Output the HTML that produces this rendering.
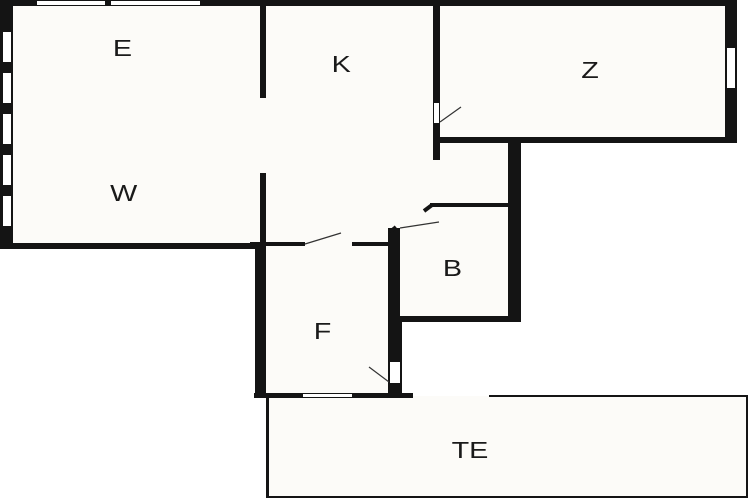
<!DOCTYPE html>
<html><head><style>
html,body{margin:0;padding:0;background:#fff;}
svg{display:block;}
text{font-family:"Liberation Sans",sans-serif;font-size:23px;fill:#1a1a1a;text-anchor:middle;}
</style></head><body>
<svg width="750" height="500" viewBox="0 0 750 500" xmlns="http://www.w3.org/2000/svg">
<rect width="750" height="500" fill="#fff"/>
<!-- room fills -->
<g fill="#fcfbf8">
<rect x="0" y="0" width="737" height="143"/>
<rect x="0" y="0" width="266" height="249"/>
<rect x="260" y="0" width="260" height="246"/>
<rect x="255" y="243" width="147" height="155"/>
<rect x="388" y="203" width="132" height="119"/>
<rect x="266" y="396" width="482" height="102"/>
</g>
<g fill="#141414">
<!-- top wall -->
<rect x="0" y="0" width="737" height="6"/>
<!-- left wall -->
<rect x="0" y="0" width="13" height="249"/>
<!-- E/W bottom -->
<rect x="0" y="243" width="266" height="6"/>
<!-- W/K wall -->
<rect x="260" y="0" width="6" height="98"/>
<rect x="260" y="173" width="6" height="76"/>
<!-- K/Z wall -->
<rect x="433" y="0" width="7" height="160"/>
<!-- Z right -->
<rect x="725" y="0" width="12" height="143"/>
<!-- Z bottom -->
<rect x="433" y="137" width="304" height="6"/>
<!-- right wall of B -->
<rect x="508" y="137" width="13" height="185"/>
<!-- B top -->
<rect x="430" y="203" width="78" height="4"/>
<!-- B left & F right -->
<rect x="388" y="228" width="12" height="94"/>
<rect x="388" y="318" width="14" height="80"/>
<!-- B bottom -->
<rect x="388" y="316" width="133" height="6"/>
<!-- K/F horizontal -->
<rect x="250" y="242" width="55" height="4"/>
<rect x="352" y="242" width="40" height="4"/>
<!-- F left -->
<rect x="255" y="243" width="11" height="155"/>
<!-- F bottom -->
<rect x="254" y="393" width="159" height="5"/>
</g>
<!-- door stubs -->
<path d="M424 211 L432 205" stroke="#141414" stroke-width="4"/>
<path d="M390 232 L396 227" stroke="#141414" stroke-width="4"/>
<!-- windows -->
<g fill="#fff">
<rect x="37" y="1" width="68" height="4"/>
<rect x="111" y="1" width="89" height="4"/>
<rect x="3" y="32" width="8" height="30"/>
<rect x="3" y="73" width="8" height="30"/>
<rect x="3" y="114" width="8" height="30"/>
<rect x="3" y="155" width="8" height="30"/>
<rect x="3" y="196" width="8" height="30"/>
<rect x="727" y="48" width="8" height="40"/>
<rect x="434" y="103" width="5" height="20"/>
<rect x="303" y="394" width="49" height="3"/>
<rect x="390" y="362" width="10" height="21"/>
</g>
<!-- door swings -->
<g stroke="#333" stroke-width="1.2" fill="none">
<line x1="440" y1="122" x2="461" y2="107"/>
<line x1="305" y1="244" x2="341" y2="233"/>
<line x1="400" y1="228" x2="439" y2="222"/>
<line x1="369" y1="367" x2="389" y2="382"/>
</g>
<!-- terrace -->
<g fill="#141414">
<rect x="266" y="396" width="3" height="102"/>
<rect x="266" y="496" width="482" height="2"/>
<rect x="746" y="396" width="2" height="102"/>
<rect x="489" y="395" width="259" height="2"/>
</g>
<g transform="scale(1.25,1)">
<text x="98" y="56">E</text>
<text x="273" y="72">K</text>
<text x="472" y="78">Z</text>
<text x="99" y="201">W</text>
<text x="362" y="276">B</text>
<text x="258" y="339">F</text>
<text x="376" y="458">TE</text>
</g>
</svg>
</body></html>
